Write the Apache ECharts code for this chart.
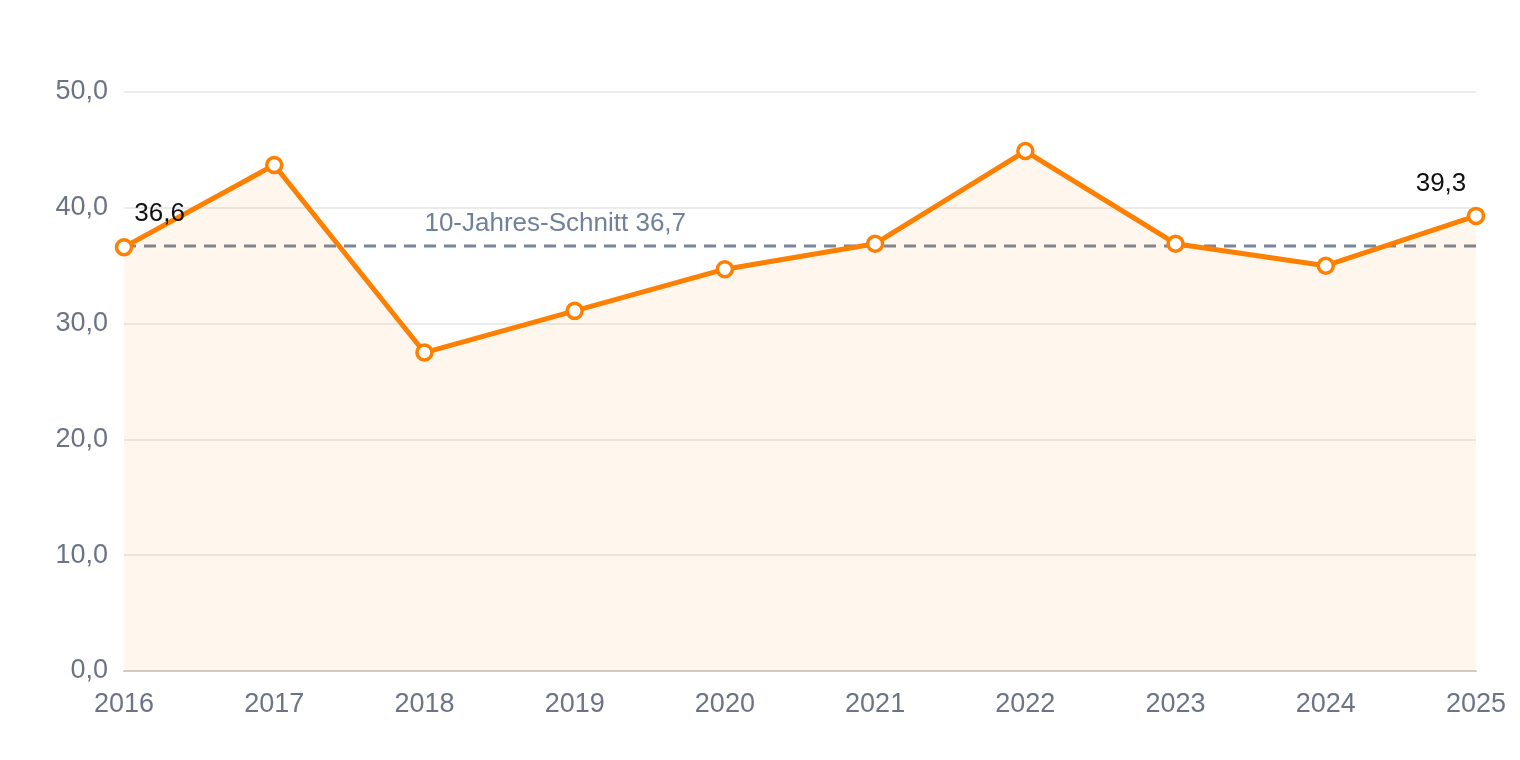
<!DOCTYPE html>
<html><head><meta charset="utf-8">
<script src="https://cdn.jsdelivr.net/npm/echarts@6/dist/echarts.min.js"></script>
<style>html,body{margin:0;padding:0;background:#fff}#c{width:1520px;height:760px}</style>
</head><body><div id="c"></div>
<script>
const years = ['2016','2017','2018','2019','2020','2021','2022','2023','2024','2025'];
const values = [36.6, 43.7, 27.5, 31.1, 34.7, 36.9, 44.9, 36.9, 35.0, 39.3];
const avgValue = 36.7;
const avgLabel = '10-Jahres-Schnitt 36,7';
const yTicks = [0, 10, 20, 30, 40, 50];

const fmt = v => v.toFixed(1).replace('.', ',');
const FONT = '"Liberation Sans", Arial, sans-serif';
const chart = echarts.init(document.getElementById('c'));
const last = values.length - 1;
chart.setOption({
  animation: false,
  grid: { left: 124, right: 44, top: 92, bottom: 89 },
  xAxis: {
    type: 'category', data: years, boundaryGap: false,
    axisLine: { lineStyle: { color: '#cccccc', width: 2 } },
    axisTick: { show: false },
    axisLabel: { color: '#6b7385', fontSize: 27, fontFamily: FONT, margin: 20 }
  },
  yAxis: {
    type: 'value', min: yTicks[0], max: yTicks[yTicks.length - 1], interval: 10,
    axisLine: { show: false }, axisTick: { show: false },
    splitLine: { lineStyle: { color: '#e4e4e4', width: 1.5 } },
    axisLabel: { color: '#6b7385', fontSize: 27, fontFamily: FONT, margin: 16, formatter: v => fmt(v) }
  },
  series: [
    {
      type: 'line', z: 3,
      data: years.map(() => avgValue),
      symbol: 'none', silent: true,
      lineStyle: { color: '#7a8599', width: 3, type: [12, 8] },
      markPoint: {
        symbol: 'circle', symbolSize: 0,
        data: [{ coord: ['2018', avgValue] }],
        label: {
          show: true, formatter: avgLabel, position: 'right', distance: 0,
          offset: [0, -22], color: '#6f819a', fontSize: 26, fontFamily: FONT
        }
      }
    },
    {
      type: 'line', z: 4,
      data: values.map((v, i) => ({
        value: v,
        label: {
          show: i === 0 || i === last,
          position: i === 0 ? 'right' : 'top',
          offset: i === 0 ? [-4, -33] : [-35, -5],
          formatter: p => fmt(p.value),
          color: '#111', fontSize: 26, fontFamily: FONT
        }
      })),
      symbol: 'circle', symbolSize: 15, showAllSymbol: true,
      itemStyle: { color: '#ffffff', borderColor: '#ff7f00', borderWidth: 3.5 },
      lineStyle: { color: '#ff7f00', width: 5 },
      areaStyle: { color: 'rgba(255,127,0,0.1)' }
    }
  ]
});
</script></body></html>
